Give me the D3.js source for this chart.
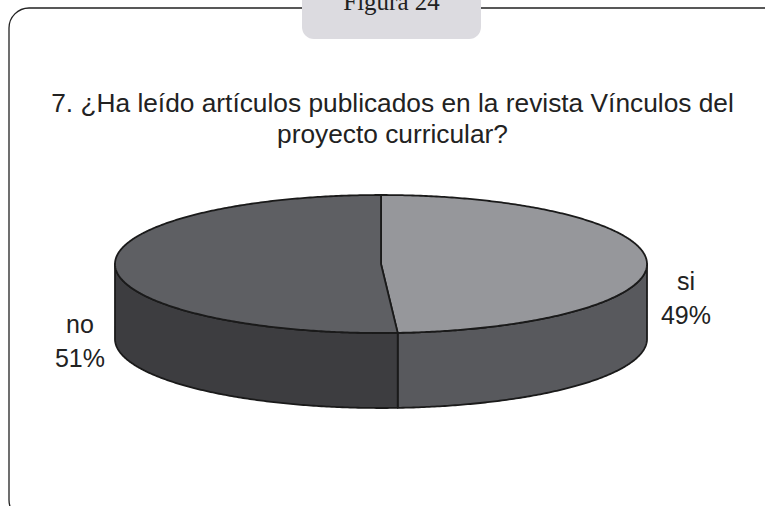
<!DOCTYPE html>
<html>
<head>
<meta charset="utf-8">
<script src="https://cdn.jsdelivr.net/npm/d3@7"></script>
<style>
  html, body { margin: 0; padding: 0; background: #ffffff; }
  svg { display: block; }
</style>
</head>
<body>
<svg id="chart" width="765" height="506"></svg>
<script>
// ---- data ----
const figureLabel = "Figura 24";
const titleLines = ["7. ¿Ha leído artículos publicados en la revista Vínculos del", "proyecto curricular?"];
const categories = ["si", "no"];
const values = [49, 51];
const percentLabels = ["49%", "51%"];

// ---- styles ----
const topColors = { si: "#96979b", no: "#5e5f63" };
const sideColors = { si: "#58595d", no: "#3d3d40" };

const svg = d3.select("#chart");

// frame
svg.append("rect")
  .attr("x", 9).attr("y", 8).attr("width", 800).attr("height", 512)
  .attr("rx", 20).attr("ry", 20)
  .attr("fill", "none").attr("stroke", "#222").attr("stroke-width", 1.3);

// tab
svg.append("rect")
  .attr("x", 302).attr("y", -20).attr("width", 179).attr("height", 59)
  .attr("rx", 12).attr("ry", 12)
  .attr("fill", "#dcdbe0");
svg.append("text")
  .attr("x", 391.5).attr("y", 10)
  .attr("text-anchor", "middle")
  .attr("font-family", "'Liberation Serif', 'Times New Roman', serif")
  .attr("font-size", 25).attr("fill", "#222")
  .text(figureLabel);

// title
svg.append("text")
  .attr("font-family", "'Liberation Sans', Arial, sans-serif")
  .attr("font-size", 26.3).attr("fill", "#222")
  .attr("text-anchor", "middle")
  .selectAll("tspan").data(titleLines).join("tspan")
  .attr("x", 392.5).attr("y", (d, i) => 112 + i * 31)
  .text(d => d);

// 3D pie
const cx = 381, cy = 264, rx = 266, ry = 69, depth = 75;
const pie = d3.pie().sort(null).startAngle(0).endAngle(2 * Math.PI);
const arcs = pie(values).map((a, i) => ({ ...a, cat: categories[i], pct: percentLabels[i] }));

const px = a => cx + rx * Math.sin(a);
const py = a => cy - ry * Math.cos(a);
const line = d3.line();

function arcPoints(a0, a1, dy) {
  const n = Math.max(2, Math.ceil(Math.abs(a1 - a0) / 0.01));
  return d3.range(n + 1).map(k => {
    const a = a0 + (a1 - a0) * k / n;
    return [px(a), py(a) + dy];
  });
}

// sides (front half: angles PI/2 .. 3PI/2)
const gSide = svg.append("g");
arcs.forEach(d => {
  const s0 = Math.max(d.startAngle, Math.PI / 2);
  const s1 = Math.min(d.endAngle, 3 * Math.PI / 2);
  if (s1 <= s0) return;
  const pts = arcPoints(s0, s1, 0).concat(arcPoints(s1, s0, depth));
  gSide.append("path")
    .attr("d", line(pts) + "Z")
    .attr("fill", sideColors[d.cat])
    .attr("stroke", "#1a1a1a").attr("stroke-width", 1.8)
    .attr("stroke-linejoin", "round");
});

// tops
const gTop = svg.append("g");
arcs.forEach(d => {
  const pts = [[cx, cy]].concat(arcPoints(d.startAngle, d.endAngle, 0));
  gTop.append("path")
    .attr("d", line(pts) + "Z")
    .attr("fill", topColors[d.cat])
    .attr("stroke", "#1a1a1a").attr("stroke-width", 1.8)
    .attr("stroke-linejoin", "round");
});

// labels
const labelPos = { si: [686, 290], no: [80, 333] };
const gLab = svg.append("g")
  .attr("font-family", "'Liberation Sans', Arial, sans-serif")
  .attr("font-size", 25).attr("fill", "#222")
  .attr("text-anchor", "middle");
arcs.forEach(d => {
  const [x, y] = labelPos[d.cat];
  const t = gLab.append("text");
  t.append("tspan").attr("x", x).attr("y", y).text(d.cat);
  t.append("tspan").attr("x", x).attr("y", y + 34).text(d.pct);
});
</script>
</body>
</html>
